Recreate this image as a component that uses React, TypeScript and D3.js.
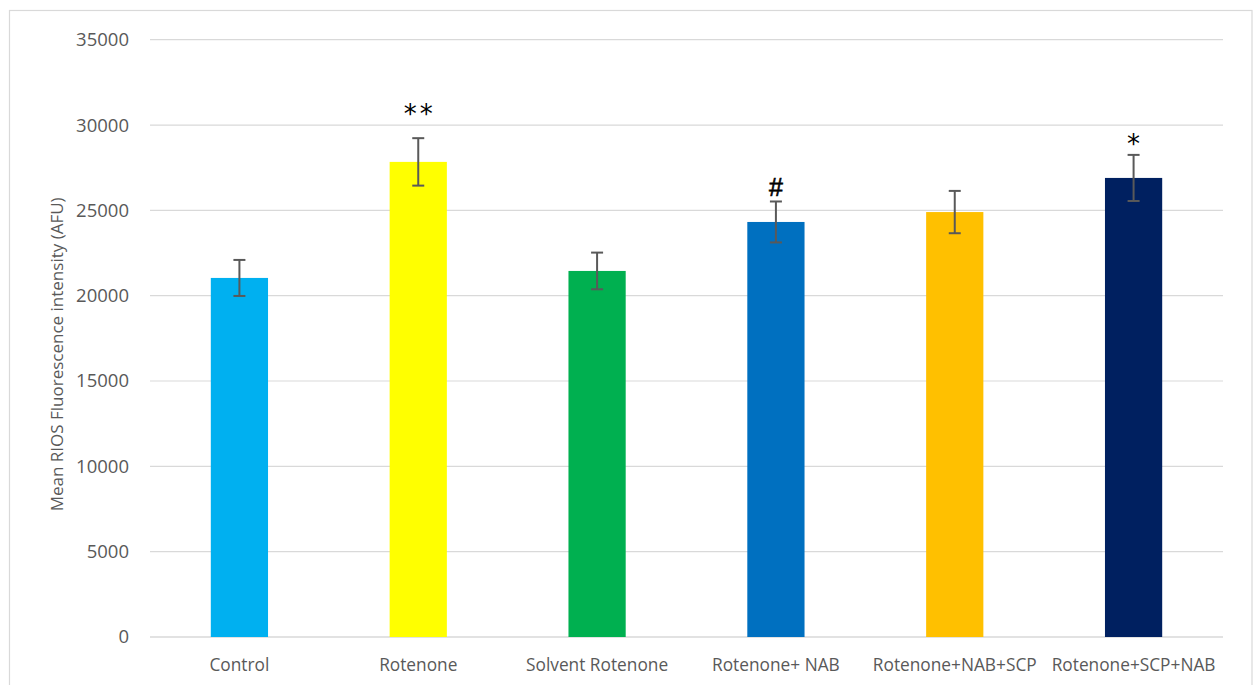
import React from "react";
import * as d3 from "d3";

// Group labels, means, error half-widths, bar colours and significance marks
const categories = [
  "Control",
  "Rotenone",
  "Solvent Rotenone",
  "Rotenone+ NAB",
  "Rotenone+NAB+SCP",
  "Rotenone+SCP+NAB",
];
const means = [21040, 27840, 21450, 24320, 24900, 26900];
const errors = [1055, 1390, 1075, 1200, 1240, 1350];
const colors = ["#00B0F0", "#FFFF00", "#00B050", "#0070C0", "#FFC000", "#002060"];
const marks = ["", "**", "", "#", "", "*"];
const yTicks = [0, 5000, 10000, 15000, 20000, 25000, 30000, 35000];
const yTitle = "Mean RIOS Fluorescence intensity (AFU)";

const W = 1257;
const H = 685;
const plot = { left: 150, right: 1223, top: 39.7, bottom: 637 };
const font = "'Open Sans', 'Noto Sans', sans-serif";
// per-symbol styling of the significance marks: baseline gap above the cap, font
const markStyle: Record<
  string,
  { lift: number; size: number; family: string; spacing: number; stroke: number }
> = {
  "**": { lift: 15, size: 26, family: "'DejaVu Sans', sans-serif", spacing: 3, stroke: 0 },
  "*": { lift: 2, size: 26, family: "'DejaVu Sans', sans-serif", spacing: 0, stroke: 0 },
  "#": { lift: 5, size: 25, family: "'Liberation Sans', sans-serif", spacing: 0, stroke: 0.6 },
};

export default function App() {
  const x = d3
    .scaleBand<string>()
    .domain(categories)
    .range([plot.left, plot.right])
    .paddingInner(0.68)
    .paddingOuter(0.34);
  const y = d3.scaleLinear().domain([0, 35000]).range([plot.bottom, plot.top]);
  const bw = x.bandwidth();
  const cap = 6;

  return (
    <svg
      width={W}
      height={H}
      style={{ position: "absolute", left: 0, top: 0, background: "#fff" }}
      fontFamily={font}
    >
      {/* chart frame */}
      <rect x={9.5} y={10.5} width={1242.5} height={700} fill="none" stroke="#D9D9D9" strokeWidth={1.2} />

      {/* gridlines and y tick labels */}
      {yTicks.map((t) => (
        <g key={t}>
          <line
            x1={plot.left}
            x2={plot.right}
            y1={y(t)}
            y2={y(t)}
            stroke="#D9D9D9"
            strokeWidth={t === 0 ? 1.5 : 1.2}
          />
          <text
            x={129}
            y={y(t)}
            dy="0.35em"
            textAnchor="end"
            fontSize={18.5}
            fill="#595959"
          >
            {t}
          </text>
        </g>
      ))}

      {/* bars */}
      {categories.map((c, i) => (
        <rect
          key={c}
          x={x(c)!}
          y={y(means[i])}
          width={bw}
          height={y(0) - y(means[i])}
          fill={colors[i]}
        />
      ))}

      {/* error bars */}
      {categories.map((c, i) => {
        const cx = x(c)! + bw / 2;
        const hi = y(means[i] + errors[i]);
        const lo = y(means[i] - errors[i]);
        return (
          <g key={c} stroke="#595959" strokeWidth={2}>
            <line x1={cx} x2={cx} y1={hi} y2={lo} />
            <line x1={cx - cap} x2={cx + cap} y1={hi} y2={hi} />
            <line x1={cx - cap} x2={cx + cap} y1={lo} y2={lo} />
          </g>
        );
      })}

      {/* significance marks */}
      {categories.map((c, i) => {
        const m = marks[i];
        if (!m) return null;
        const s = markStyle[m];
        return (
          <text
            key={c}
            x={x(c)! + bw / 2 + s.spacing / 2}
            y={y(means[i] + errors[i]) - s.lift}
            textAnchor="middle"
            fontSize={s.size}
            fill="#000"
            stroke={s.stroke ? "#000" : "none"}
            strokeWidth={s.stroke}
            letterSpacing={s.spacing}
            fontFamily={s.family}
          >
            {m}
          </text>
        );
      })}

      {/* category labels */}
      {categories.map((c) => (
        <text
          key={c}
          x={x(c)! + bw / 2}
          y={665}
          dy="0.35em"
          textAnchor="middle"
          fontSize={17.3}
          fill="#595959"
        >
          {c}
        </text>
      ))}

      {/* y axis title */}
      <text
        transform={`translate(57, ${(plot.top + plot.bottom) / 2 + 16}) rotate(-90)`}
        textAnchor="middle"
        dy="0.35em"
        fontSize={17}
        fill="#595959"
      >
        {yTitle}
      </text>
    </svg>
  );
}
